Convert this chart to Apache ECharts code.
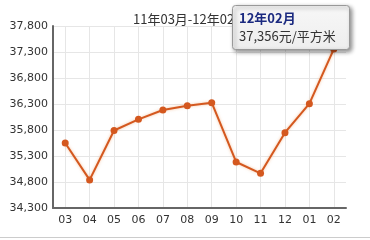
<!DOCTYPE html>
<html><head><meta charset="utf-8">
<script src="https://cdn.jsdelivr.net/npm/echarts@6/dist/echarts.min.js"></script>
<style>html,body{margin:0;padding:0;background:#fff;}#c{width:370px;height:240px;}</style>
</head><body><div id="c"></div>
<script>
var months = ['03','04','05','06','07','08','09','10','11','12','01','02'];
var prices = [35550, 34840, 35790, 36005, 36185, 36268, 36325, 35185, 34967, 35749, 36306, 37356];
var yTicks = [34300, 34800, 35300, 35800, 36300, 36800, 37300, 37800];
var titleText = '11年03月-12年02月';
var tipTitle = '12年02月';
var unit = '元/平方米';

var chart = echarts.init(document.getElementById('c'), null, {renderer: 'canvas'});
var fmt = function (v) { return String(v).replace(/\B(?=(\d{3})+(?!\d))/g, ','); };
var lastIdx = prices.length - 1;
var font = 'DejaVu Sans';
chart.setOption({
  animation: false,
  backgroundColor: '#fff',
  title: {
    text: titleText, left: 128, top: 8,
    textStyle: {fontSize: 13, fontWeight: 'normal', color: '#333', fontFamily: 'Noto Sans CJK SC'}
  },
  grid: {left: 53, right: 24, top: 26, bottom: 32},
  xAxis: {
    type: 'category', data: months, boundaryGap: true,
    axisLine: {lineStyle: {color: '#666', width: 2}},
    axisTick: {alignWithLabel: true, length: 3, lineStyle: {color: '#666', width: 2}},
    axisLabel: {color: '#333', fontSize: 11, fontFamily: font, margin: 7},
    splitLine: {show: true, alignWithLabel: true, lineStyle: {color: '#e6e6e6', width: 1}}
  },
  yAxis: {
    type: 'value', min: yTicks[0], max: yTicks[yTicks.length - 1], interval: 500,
    axisLine: {show: true, lineStyle: {color: '#666', width: 2}},
    axisTick: {show: false},
    axisLabel: {color: '#333', fontSize: 11, fontFamily: font, margin: 5, formatter: fmt},
    splitLine: {show: true, lineStyle: {color: '#e6e6e6', width: 1}}
  },
  series: [{
    type: 'line', data: prices, symbol: 'circle', symbolSize: 7,
    lineStyle: {color: '#d4581f', width: 2, shadowColor: 'rgba(240,170,120,0.7)', shadowBlur: 3},
    itemStyle: {color: '#d4581f'}
  }]
});

chart.setOption({
  graphic: [
    {type: 'line', shape: {x1: 0, y1: 237.5, x2: 370, y2: 237.5}, style: {stroke: '#ccc', lineWidth: 1}},
    {type: 'rect', shape: {x: 232.5, y: 5.5, width: 117, height: 44, r: 3},
      style: {fill: {type: 'linear', x: 0, y: 0, x2: 0, y2: 1, colorStops: [{offset: 0, color: '#f7f7f7'}, {offset: 1, color: '#eeeeee'}]},
        stroke: '#999', lineWidth: 1, shadowColor: 'rgba(0,0,0,0.45)', shadowBlur: 4, shadowOffsetX: 2, shadowOffsetY: 2}, z: 100},
    {type: 'text', x: 239, y: 12, z: 101,
      style: {text: tipTitle, fill: '#1b2a80', font: 'bold 13px "Noto Sans CJK SC"'}},
    {type: 'text', x: 239, y: 30, z: 101,
      style: {text: fmt(prices[lastIdx]) + unit, fill: '#333', font: '13px "Noto Sans CJK SC"'}}
  ]
});
</script></body></html>
